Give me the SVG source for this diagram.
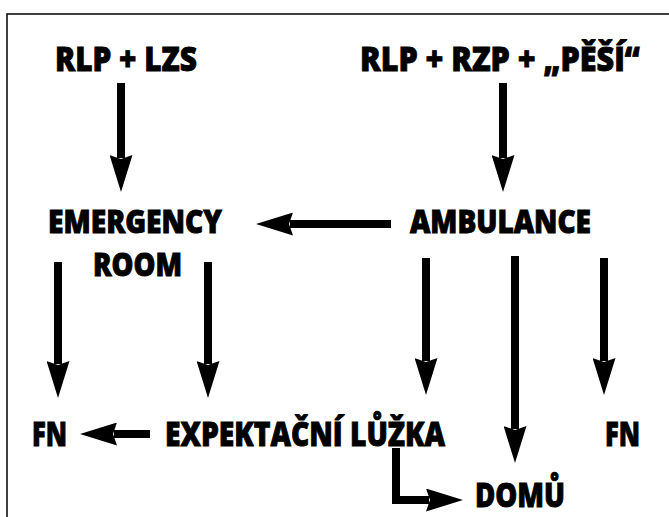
<svg xmlns="http://www.w3.org/2000/svg" width="669" height="517" viewBox="0 0 669 517">
<style>
.t{font-family:"Open Sans","Liberation Sans",sans-serif;font-weight:800;fill:#000;stroke:#000;stroke-width:0.9}
.big{font-size:34px}
.mid{font-size:31px}
.c{fill:none;stroke:#000;stroke-width:8}
</style>
<defs>
<marker id="ah" markerUnits="userSpaceOnUse" viewBox="0 0 37 23" refX="3" refY="11.5" markerWidth="37" markerHeight="23" orient="auto">
<path d="M0,0 L37,11.5 L0,23 L4,11.5 Z" fill="#000"/>
</marker>
</defs>
<rect x="7" y="14" width="680" height="520" fill="#fff" stroke="#000" stroke-width="1.5"/>
<g id="connectors">
<path class="c" d="M121,83 V158" marker-end="url(#ah)"/>
<path class="c" d="M503,83 V158" marker-end="url(#ah)"/>
<path class="c" d="M391,224 H290" marker-end="url(#ah)"/>
<path class="c" d="M58,262 V364" marker-end="url(#ah)"/>
<path class="c" d="M208,262 V364" marker-end="url(#ah)"/>
<path class="c" d="M426,258 V361" marker-end="url(#ah)"/>
<path class="c" d="M515,256 V429" marker-end="url(#ah)"/>
<path class="c" d="M604,258 V361" marker-end="url(#ah)"/>
<path class="c" d="M150,434 H114" marker-end="url(#ah)"/>
<path class="c" d="M396,448 V500 H429" marker-end="url(#ah)"/>
</g>
<g id="n-rlp-lzs"><text class="t big" x="55" y="71" textLength="142" lengthAdjust="spacingAndGlyphs">RLP + LZS</text></g>
<g id="n-rlp-rzp"><text class="t big" x="360" y="71" textLength="280" lengthAdjust="spacingAndGlyphs">RLP + RZP + „PĚŠÍ“</text></g>
<g id="n-er"><text class="t mid" x="48" y="233" textLength="174" lengthAdjust="spacingAndGlyphs">EMERGENCY</text><text class="t mid" x="93" y="276" textLength="89" lengthAdjust="spacingAndGlyphs">ROOM</text></g>
<g id="n-amb"><text class="t mid" x="410" y="233" textLength="181" lengthAdjust="spacingAndGlyphs">AMBULANCE</text></g>
<g id="n-fn1"><text class="t big" x="32" y="446" textLength="35" lengthAdjust="spacingAndGlyphs">FN</text></g>
<g id="n-exp"><text class="t big" x="165" y="446" textLength="280" lengthAdjust="spacingAndGlyphs">EXPEKTAČNÍ LŮŽKA</text></g>
<g id="n-fn2"><text class="t big" x="605" y="446" textLength="35" lengthAdjust="spacingAndGlyphs">FN</text></g>
<g id="n-domu"><text class="t big" x="475" y="507" textLength="90" lengthAdjust="spacingAndGlyphs">DOMŮ</text></g>
</svg>
